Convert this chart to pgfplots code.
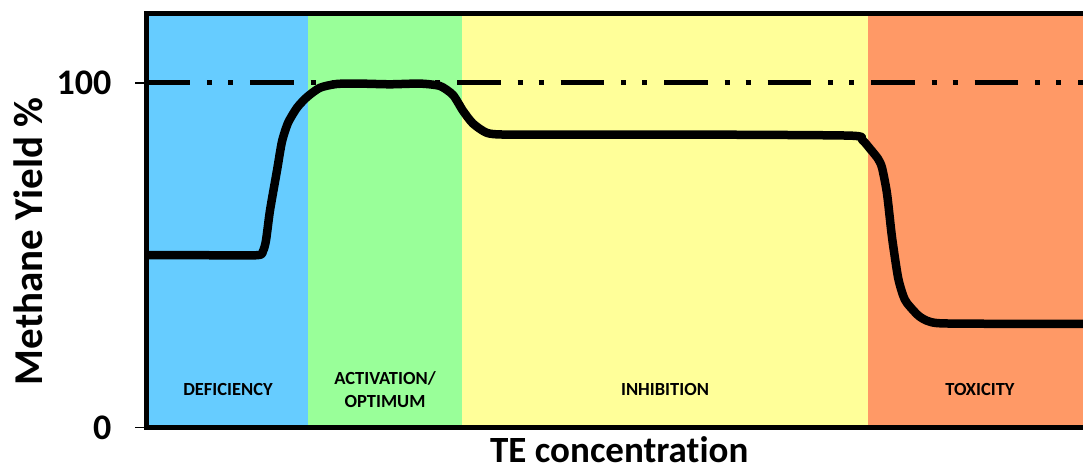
\documentclass[border=0pt]{standalone}
\usepackage{pgfplots}
\pgfplotsset{compat=1.18}
\usepackage{fontspec}
\setmainfont{Carlito}[Ligatures={NoCommon}]
\definecolor{cblue}{HTML}{66CCFF}
\definecolor{cgreen}{HTML}{99FF99}
\definecolor{cyellow}{HTML}{FFFF99}
\definecolor{corange}{HTML}{FF9966}
\begin{document}
\begin{tikzpicture}
\path[use as bounding box] (-146.5pt,-44.5pt) rectangle (936.5pt,427.5pt);
\begin{axis}[
  at={(0,0)}, anchor=south west,
  scale only axis,
  width=936.5pt, height=413.5pt,
  xmin=146.5, xmax=1083,
  ymin=0, ymax=120,
  clip=false,
  axis line style={draw=none},
  xtick=\empty,
  ytick={0,100},
  yticklabels={0,100},
  ytick pos=left,
  tick align=outside,
  major tick length=11pt,
  every tick/.style={black, line width=1.5pt},
  yticklabel style={font=\bfseries\fontsize{36}{36}\selectfont, anchor=east, inner sep=0pt, xshift=-24pt},
  ylabel={Methane Yield \%},
  ylabel style={at={(axis description cs:-0.111,0.45)}, anchor=base, rotate=0, font=\bfseries\fontsize{41}{41}\selectfont},
  xlabel={TE concentration},
  xlabel style={at={(axis description cs:0.5048,-0.0855)}, anchor=base, inner sep=0pt, font=\bfseries\fontsize{37}{37}\selectfont},
]
% background regions
\addplot[fill=cblue, draw=none] coordinates {(146.5,120) (308,120)} \closedcycle;
\addplot[fill=cgreen, draw=none] coordinates {(308,120) (462.3,120)} \closedcycle;
\addplot[fill=cyellow, draw=none] coordinates {(462.3,120) (867.7,120)} \closedcycle;
\addplot[fill=corange, draw=none] coordinates {(867.7,120) (1083,120)} \closedcycle;
% 100% reference line
\addplot[black, line width=5pt, dash pattern=on 43.5pt off 17pt on 5pt off 16pt on 5pt off 17pt]
  coordinates {(146.5,100) (1083,100)};
% methane yield curve
\addplot[black, line width=8.5pt, smooth, tension=0.4, line join=round, line cap=butt] coordinates {
(146.5,50.0) (200,50.0) (257,50.0) (263,51.2) (266,54.3) (270,63.0) (277,74.6) (282,83.0)
(288,88.4) (297,92.8) (307,95.9) (320,98.6) (337,99.7) (360,99.8) (390,99.6) (420,99.8)
(440,99.1) (453,96.5) (463,91.9) (473,88.2) (487,85.5) (507,85.0) (600,85.0) (700,85.0)
(850,84.7) (862,83.5) (870,80.9) (878,78.0) (882,75.4) (887,67.9) (892,55.2) (898,43.6)
(903,38.4) (907,36.1) (920,32.1) (937,30.3) (1000,30.1) (1083,30.1)
};
% region labels
\node[font=\bfseries\fontsize{18.5}{23}\selectfont] at (axis cs:228,10.9) {DEFICIENCY};
\node[font=\bfseries\fontsize{18.5}{23}\selectfont, align=center] at (axis cs:385,10.9) {ACTIVATION/\\OPTIMUM};
\node[font=\bfseries\fontsize{18.5}{23}\selectfont] at (axis cs:665,10.9) {INHIBITION};
\node[font=\bfseries\fontsize{18.5}{23}\selectfont] at (axis cs:980,10.9) {TOXICITY};
\end{axis}
\draw[black, line width=5pt, line join=miter] (950pt,413.5pt) -- (0pt,413.5pt) -- (0pt,0pt) -- (950pt,0pt);
\end{tikzpicture}
\end{document}
